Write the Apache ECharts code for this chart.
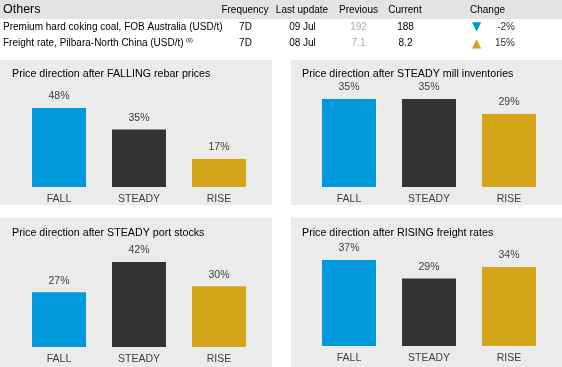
<!DOCTYPE html>
<html>
<head>
<meta charset="utf-8">
<script src="https://cdn.jsdelivr.net/npm/echarts@6/dist/echarts.min.js"></script>
<style>
html,body{margin:0;padding:0;background:#fff;}
#chart{width:562px;height:367px;}
</style>
</head>
<body>
<div id="chart"></div>
<script>
// ---- data ----
const categories = ['FALL', 'STEADY', 'RISE'];
const panelTitles = [
  'Price direction after FALLING rebar prices',
  'Price direction after STEADY mill inventories',
  'Price direction after STEADY port stocks',
  'Price direction after RISING freight rates'
];
const fallingRebar = [48, 35, 17];
const steadyMill = [35, 35, 29];
const steadyPort = [27, 42, 30];
const risingFreight = [37, 29, 34];

const tableTitle = 'Others';
const tableHeaders = ['Frequency', 'Last update', 'Previous', 'Current', 'Change'];
const rowNames = ['Premium hard coking coal, FOB Australia (USD/t)', 'Freight rate, Pilbara-North China (USD/t)'];
const rowNotes = ['', '(9)'];
const rowFrequency = ['7D', '7D'];
const rowLastUpdate = ['09 Jul', '08 Jul'];
const rowPrevious = ['192', '7.1'];
const rowCurrent = ['188', '8.2'];
const rowChange = ['-2%', '15%'];
const rowDirection = ['down', 'up'];

// ---- styling ----
const FONT = 'Liberation Sans';
const barColors = ['#0099dc', '#333333', '#d4a419'];
const panelBg = '#ebebeb';

const seriesData = [fallingRebar, steadyMill, steadyPort, risingFreight];
const grids = [
  {left: 19, width: 240, top: 108, height: 79},
  {left: 309, width: 240, top: 99, height: 88},
  {left: 19, width: 240, top: 262, height: 85},
  {left: 309, width: 240, top: 260, height: 86}
];
const panels = [
  {x: 0, y: 60, w: 272, h: 145},
  {x: 291, y: 60, w: 271, h: 145},
  {x: 0, y: 218, w: 272, h: 149},
  {x: 291, y: 218, w: 271, h: 149}
];
const titlePos = [
  {left: 12, top: 69},
  {left: 302, top: 69},
  {left: 12, top: 228},
  {left: 302, top: 228}
];

function txt(x, y, text, extra) {
  return {type: 'text', x: x, y: y, style: Object.assign({
    text: text, fontSize: 10, fontFamily: FONT, fill: '#000',
    align: 'left', verticalAlign: 'middle'
  }, extra || {})};
}

const graphic = [];
panels.forEach(p => graphic.push({type: 'rect', z: -10, silent: true,
  shape: {x: p.x, y: p.y, width: p.w, height: p.h}, style: {fill: panelBg}}));
graphic.push({type: 'rect', z: -10, silent: true, shape: {x: 0, y: 0, width: 562, height: 19}, style: {fill: '#e3e3e3'}});
graphic.push(txt(3, 10, tableTitle, {fontSize: 12.5}));
const headerX = [245, 302, 358.5, 405, 487.5];
tableHeaders.forEach((h, i) => graphic.push(txt(headerX[i], 10, h, {align: 'center'})));
const rowY = [27, 43.5];
rowNames.forEach((name, i) => {
  const y = rowY[i];
  const c = {align: 'center'};
  graphic.push(txt(3, y, name));
  if (rowNotes[i]) graphic.push(txt(186, y - 3.5, rowNotes[i], {fontSize: 5.5}));
  graphic.push(txt(245.5, y, rowFrequency[i], c));
  graphic.push(txt(302.5, y, rowLastUpdate[i], c));
  graphic.push(txt(358.5, y, rowPrevious[i], Object.assign({fill: '#aaaaaa'}, c)));
  graphic.push(txt(405.5, y, rowCurrent[i], c));
  graphic.push(txt(476.7, y, rowDirection[i] === 'down' ? '▼' : '▲', Object.assign({
    fontSize: 12, fontFamily: 'DejaVu Sans',
    fill: rowDirection[i] === 'down' ? barColors[0] : barColors[2]}, c)));
  graphic.push(txt(515, y, rowChange[i], {align: 'right', fill: '#333'}));
});

const option = {
  animation: false,
  backgroundColor: '#fff',
  textStyle: {fontFamily: FONT},
  title: panelTitles.map((t, i) => ({
    text: t, left: titlePos[i].left, top: titlePos[i].top, padding: 0,
    textStyle: {fontSize: 10.7, fontWeight: 'normal', color: '#000', fontFamily: FONT}
  })),
  grid: grids.map(g => Object.assign({containLabel: false}, g)),
  xAxis: seriesData.map((d, i) => ({
    type: 'category', gridIndex: i, data: categories,
    axisLine: {show: false}, axisTick: {show: false}, splitLine: {show: false},
    axisLabel: {color: '#404040', fontSize: 10.5, margin: 6.5, fontFamily: FONT}
  })),
  yAxis: seriesData.map((d, i) => ({
    type: 'value', gridIndex: i, min: 0, max: Math.max(...d), show: false,
    splitLine: {show: false}
  })),
  series: seriesData.map((d, i) => ({
    type: 'bar', xAxisIndex: i, yAxisIndex: i, barWidth: 54,
    data: d.map((v, j) => ({value: v, itemStyle: {color: barColors[j]}})),
    label: {show: true, position: 'top', distance: 6, formatter: '{c}%',
      color: '#404040', fontSize: 10.5, fontFamily: FONT}
  })),
  graphic: graphic
};

const chart = echarts.init(document.getElementById('chart'), null, {renderer: 'canvas'});
chart.setOption(option);
</script>
</body>
</html>
